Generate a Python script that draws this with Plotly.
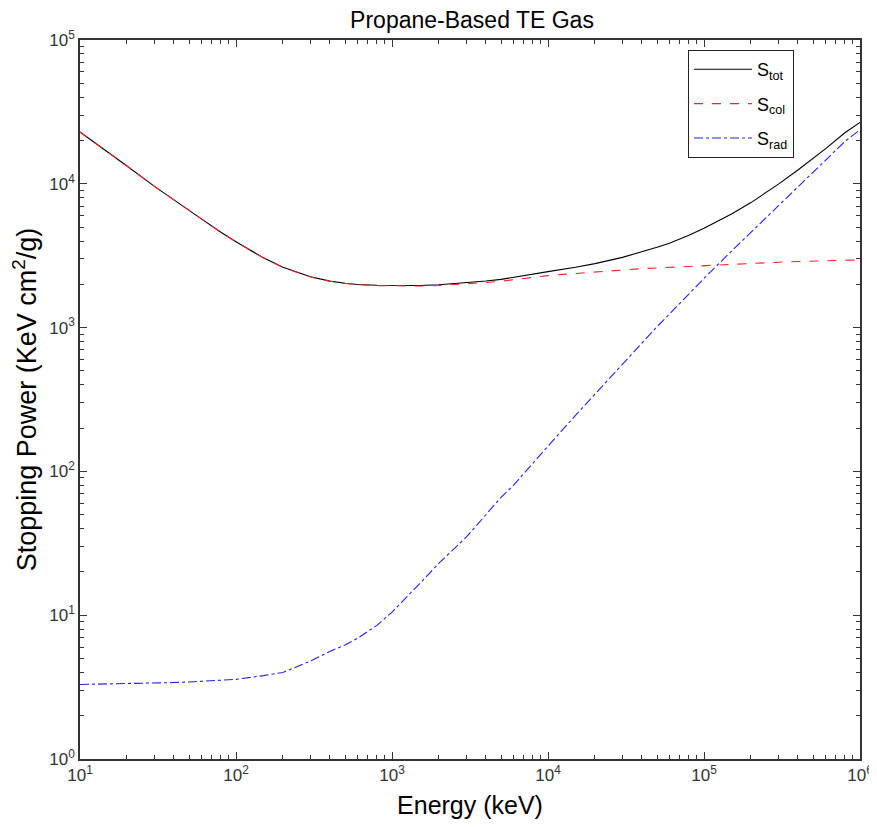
import numpy as np
import plotly.graph_objects as go

energy_kev = [10, 15, 20, 30, 40, 50, 60, 80, 100, 150, 200, 300, 400, 500, 600, 800,
              1000, 1500, 2000, 3000, 4000, 5000, 6000, 8000, 1e4, 1.5e4, 2e4, 3e4, 4e4,
              5e4, 6e4, 8e4, 1e5, 1.5e5, 2e5, 3e5, 4e5, 5e5, 6e5, 8e5, 1e6]

s_col = [22900, 16800, 13300, 9600, 7700, 6500, 5700, 4600, 3950, 3050, 2620, 2250, 2100,
         2030, 1990, 1960, 1950, 1945, 1960, 2010, 2060, 2100, 2150, 2220, 2300, 2380, 2440,
         2520, 2570, 2600, 2625, 2670, 2710, 2770, 2805, 2850, 2880, 2900, 2915, 2935, 2955]

s_rad = [3.30, 3.32, 3.35, 3.38, 3.40, 3.43, 3.46, 3.52, 3.58, 3.8, 4.0, 4.8, 5.6, 6.2, 6.9,
         8.5, 10.5, 16.5, 23, 35, 50, 66, 80, 115, 150, 245, 345, 560, 790, 1015, 1240, 1720,
         2200, 3400, 4600, 7100, 9600, 12100, 14600, 19700, 23800]

s_tot = [22900, 16800, 13300, 9600, 7700, 6500, 5700, 4600, 3950, 3055, 2625, 2255, 2105,
         2035, 1995, 1970, 1960, 1960, 1985, 2045, 2110, 2165, 2230, 2335, 2450, 2625, 2785,
         3080, 3360, 3615, 3865, 4390, 4910, 6170, 7400, 9950, 12480, 15000, 17500, 22640, 26750]

x_major = [10, 100, 1000, 10000, 100000, 1000000]
x_major_text = ["10<sup>1</sup>", "10<sup>2</sup>", "10<sup>3</sup>", "10<sup>4</sup>",
                "10<sup>5</sup>", "10<sup>6</sup>"]
y_major = [1, 10, 100, 1000, 10000, 100000]
y_major_text = ["10<sup>0</sup>", "10<sup>1</sup>", "10<sup>2</sup>", "10<sup>3</sup>",
                "10<sup>4</sup>", "10<sup>5</sup>"]

def minors(majors):
    out = []
    for m in majors[:-1]:
        out += [m * k for k in range(2, 10)]
    return out

FONT = "Liberation Sans, Arial"

# The page body has an 8px margin, so the figure is sized/offset to compensate.
W, H = 869, 811

fig = go.Figure()
fig.add_trace(go.Scatter(x=energy_kev, y=s_tot, mode="lines", name="S<sub>tot</sub>",
                         legendgroup="a", line=dict(color="black", width=1.1)))
fig.add_trace(go.Scatter(x=energy_kev, y=s_col, mode="lines", name="S<sub>col</sub>",
                         legendgroup="b", line=dict(color="#ff2020", width=1.1, dash="dash")))
fig.add_trace(go.Scatter(x=energy_kev, y=s_rad, mode="lines", name="S<sub>rad</sub>",
                         legendgroup="c", line=dict(color="#2020ff", width=1.1, dash="dashdot")))

axis_common = dict(type="log", showgrid=False, zeroline=False, showline=True, automargin=False,
                   linecolor="#333", linewidth=1.5, mirror="ticks", ticks="inside",
                   ticklen=7, tickwidth=1.2, tickcolor="#333",
                   tickfont=dict(family=FONT, size=17, color="#333"))

fig.update_xaxes(**axis_common, range=[1, 6], tickvals=x_major, ticktext=x_major_text,
                 minor=dict(tickvals=minors(x_major), ticks="inside", ticklen=4,
                            tickcolor="#333", tickwidth=1.2, showgrid=False),
                 title=dict(text="Energy (keV)", standoff=14,
                            font=dict(family=FONT, size=25, color="black")))
fig.update_yaxes(**axis_common, range=[0, 5], tickvals=y_major, ticktext=y_major_text,
                 minor=dict(tickvals=minors(y_major), ticks="inside", ticklen=4,
                            tickcolor="#333", tickwidth=1.2, showgrid=False),
                 title=dict(text="Stopping Power (KeV cm<sup>2</sup>/g)", standoff=10,
                            font=dict(family=FONT, size=27, color="black")))

fig.update_layout(
    width=W, height=H,
    margin=dict(l=72, r=17, t=32, b=60),
    paper_bgcolor="white", plot_bgcolor="white",
    title=dict(text="Propane-Based TE Gas", x=464 / W, xanchor="center",
               y=1 - 4 / H, yanchor="top", pad=dict(t=0, b=0),
               font=dict(family=FONT, size=23, color="black")),
    legend=dict(x=0.9154, xanchor="right", y=0.986, yanchor="top",
                bordercolor="#222", borderwidth=1, bgcolor="white",
                font=dict(family=FONT, size=18, color="black"),
                itemwidth=58, tracegroupgap=8),
    showlegend=True,
)

fig.write_html("out.html")
